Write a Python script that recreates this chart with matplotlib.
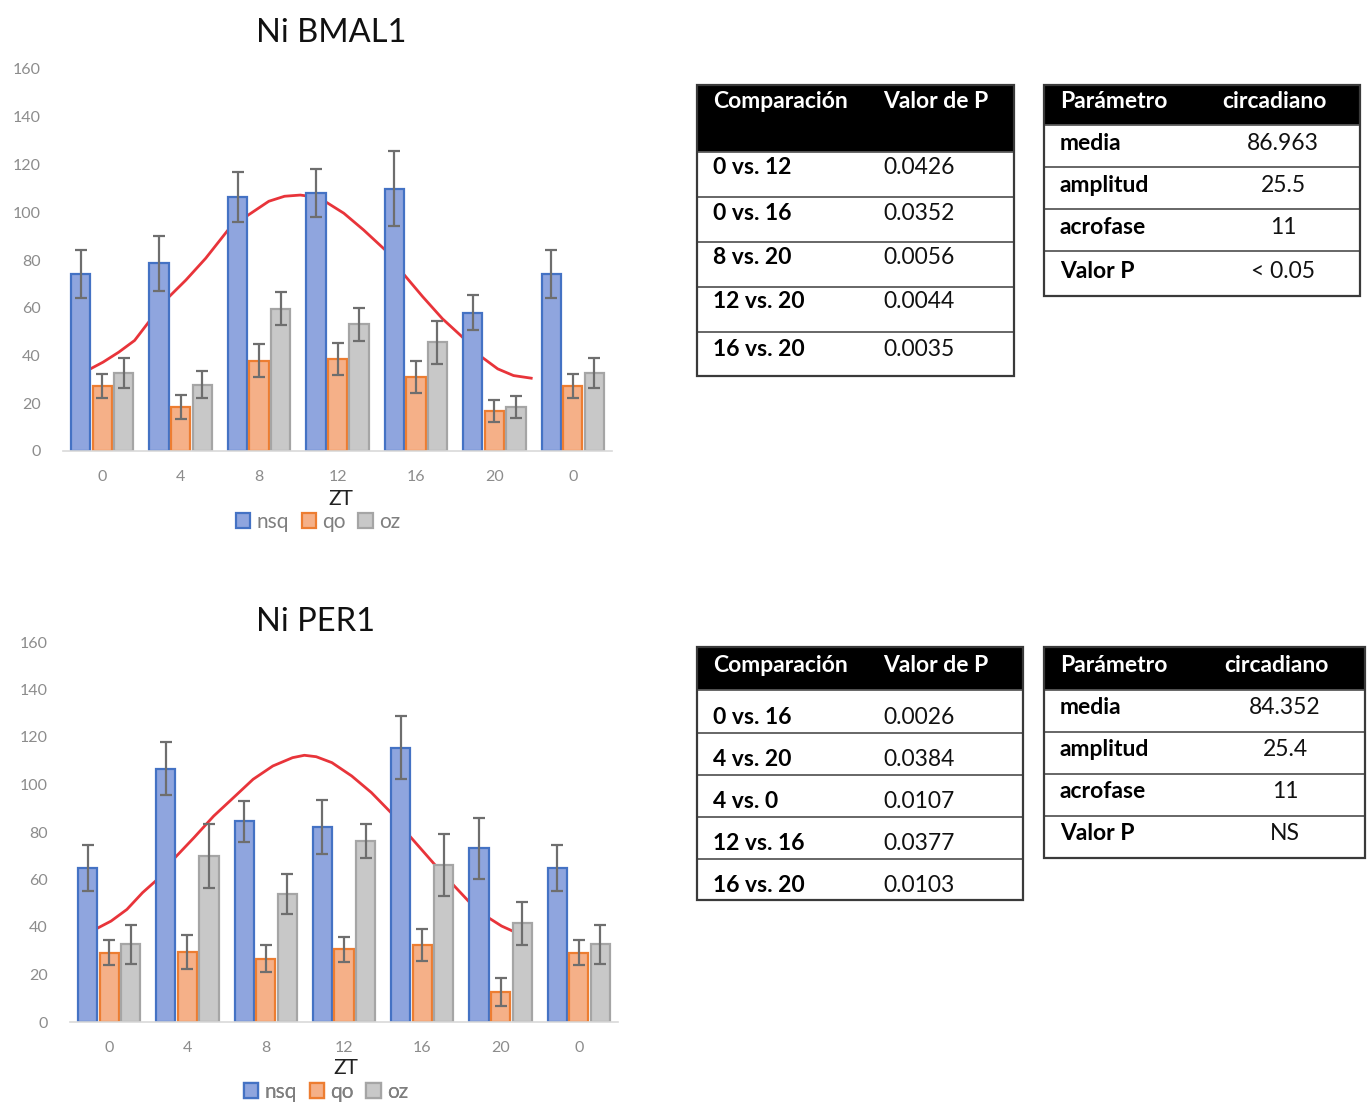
import matplotlib
matplotlib.use("Agg")
import matplotlib.pyplot as plt
from matplotlib.patches import Rectangle
import numpy as np

plt.rcParams['font.family'] = ['Lato', 'DejaVu Sans']

# ---------------- data ----------------
zt_labels = ['0', '4', '8', '12', '16', '20', '0']
series_names = ['nsq', 'qo', 'oz']

bmal_nsq = [74, 78.6, 106.4, 108, 109.8, 58, 74]
bmal_nsq_err = [10, 11.5, 10.4, 10, 15.7, 7.3, 10]
bmal_qo = [27.4, 18.5, 37.9, 38.6, 30.9, 16.8, 27.4]
bmal_qo_err = [5, 5, 7, 6.6, 6.6, 4.5, 5]
bmal_oz = [32.7, 27.8, 59.6, 53, 45.5, 18.5, 32.7]
bmal_oz_err = [6.2, 5.6, 6.9, 7, 9, 4.7, 6.2]

# fitted cosinor curve (x in category units, y value)
bmal_fit_x = [-0.151, 0.010, 0.211, 0.413, 0.604, 0.840, 1.067, 1.319, 1.605, 1.847,
              2.124, 2.325, 2.526, 2.728, 2.838, 3.080, 3.332, 3.608, 3.835, 4.087,
              4.338, 4.600, 4.841, 5.043, 5.244, 5.470]
bmal_fit_y = [34.4, 37.2, 41.4, 46.3, 54.5, 64.2, 71.6, 80.7, 92.6, 98.5,
              104.6, 106.7, 107.2, 106.3, 104.6, 99.6, 92.6, 84.2, 74.4, 64.6,
              55.4, 47.5, 39.3, 34.4, 31.6, 30.5]

per_nsq = [64.7, 106.7, 84.5, 82.1, 115.5, 73.1, 64.7]
per_nsq_err = [9.7, 11.2, 8.5, 11.4, 13.3, 12.9, 9.7]
per_qo = [29.2, 29.6, 26.7, 30.6, 32.3, 12.6, 29.2]
per_qo_err = [5.3, 7.2, 5.6, 5.3, 6.7, 5.8, 5.3]
per_oz = [32.7, 69.9, 53.8, 76.2, 66.1, 41.5, 32.7]
per_oz_err = [8.1, 13.3, 8.4, 7, 13.2, 9.2, 8.1]

per_fit_x = [-0.161, 0.025, 0.227, 0.428, 0.615, 0.841, 1.083, 1.335, 1.612, 1.839,
             2.091, 2.343, 2.494, 2.645, 2.846, 3.098, 3.350, 3.602, 3.839, 4.156,
             4.408, 4.610, 4.846, 5.013, 5.154]
per_fit_y = [39.3, 42.5, 47.4, 54.5, 60.0, 69.2, 77.6, 86.7, 95.2, 102.2,
             107.8, 111.3, 112.3, 111.7, 109.2, 103.6, 96.6, 88.1, 78.3, 66.4,
             57.3, 50.2, 43.9, 40.4, 38.3]

bmal_cmp_header = ['Comparación', 'Valor de P']
bmal_cmp = ['0 vs. 12', '0 vs. 16', '8 vs. 20', '12 vs. 20', '16 vs. 20']
bmal_cmp_p = ['0.0426', '0.0352', '0.0056', '0.0044', '0.0035']
par_header = ['Parámetro', 'circadiano']
par_names = ['media', 'amplitud', 'acrofase', 'Valor P']
bmal_par_vals = ['86.963', '25.5', '11', '< 0.05']

per_cmp = ['0 vs. 16', '4 vs. 20', '4 vs. 0', '12 vs. 16', '16 vs. 20']
per_cmp_p = ['0.0026', '0.0384', '0.0107', '0.0377', '0.0103']
per_par_vals = ['84.352', '25.4', '11', 'NS']

# ---------------- styling ----------------
W, H = 1367, 1120
fig = plt.figure(figsize=(W / 100, H / 100), dpi=100)

face = ['#8FA5DE', '#F5B088', '#C8C8C8']
edge = ['#4472C4', '#ED7D31', '#A5A5A5']
err_color = '#6E6E6E'
tick_color = '#8C8C8C'


def px_axes(l, r, t, b):
    return fig.add_axes([l / W, 1 - b / H, (r - l) / W, (b - t) / H])


def bar_chart(ax, vals, errs, fit_x, fit_y):
    x = np.arange(len(zt_labels))
    offs = [-0.275, 0.0, 0.275]
    ax.plot(fit_x, fit_y, color='#E8343A', lw=2.0, zorder=1)
    handles = []
    for i in range(3):
        b = ax.bar(x + offs[i], vals[i], width=0.245, color=face[i], edgecolor=edge[i],
                   linewidth=1.6, zorder=2, label=series_names[i])
        ax.errorbar(x + offs[i], vals[i], yerr=errs[i], fmt='none', ecolor=err_color,
                    elinewidth=1.6, capsize=4.5, capthick=1.6, zorder=3)
        handles.append(b)
    ax.set_xlim(-0.5, len(zt_labels) - 0.5)
    ax.set_ylim(0, 160)
    ax.set_yticks(np.arange(0, 161, 20))
    ax.set_xticks(x)
    ax.set_xticklabels(zt_labels)
    for s in ['top', 'right', 'left']:
        ax.spines[s].set_visible(False)
    ax.spines['bottom'].set_color('#D9D9D9')
    ax.spines['bottom'].set_linewidth(1.2)
    ax.tick_params(axis='both', length=0, labelsize=11.5, colors=tick_color)
    ax.tick_params(axis='y', pad=16)
    ax.tick_params(axis='x', pad=14)
    return handles


ax1 = px_axes(63, 612, 69, 451)
h1 = bar_chart(ax1, [bmal_nsq, bmal_qo, bmal_oz], [bmal_nsq_err, bmal_qo_err, bmal_oz_err],
               bmal_fit_x, bmal_fit_y)
ax2 = px_axes(70, 618, 642, 1022)
h2 = bar_chart(ax2, [per_nsq, per_qo, per_oz], [per_nsq_err, per_qo_err, per_oz_err],
               per_fit_x, per_fit_y)

ov = fig.add_axes([0, 0, 1, 1], zorder=5)
ov.set_xlim(0, W)
ov.set_ylim(H, 0)
ov.axis('off')
ov.patch.set_alpha(0)

# titles, axis labels, legends
ov.text(331, 33, 'Ni BMAL1', fontsize=23.5, ha='center', va='center', color='#111111')
ov.text(316, 622, 'Ni PER1', fontsize=23.5, ha='center', va='center', color='#111111')
ov.text(341, 499, 'ZT', fontsize=15, ha='center', va='center', color='#222222')
ov.text(346, 1068, 'ZT', fontsize=15, ha='center', va='center', color='#222222')

for ax, h, (cx, cy) in [(ax1, h1, (318, 522)), (ax2, h2, (326, 1092))]:
    ov.legend(h, series_names, loc='center', bbox_to_anchor=(cx, cy),
              bbox_transform=ov.transData, ncol=3, frameon=False, fontsize=15,
              handlelength=0.7, handleheight=0.7, handletextpad=0.3,
              columnspacing=0.6, labelcolor='#7F7F7F', borderpad=0)
    ov.add_artist(ov.get_legend())

FS = 16.5


def table(x0, x1, lines, header_y, header, rows_l, rows_r, text_y, col2_x, col2_center,
          head2_x):
    top, head_bot = lines[0], lines[1]
    ov.add_patch(Rectangle((x0, top), x1 - x0, head_bot - top, facecolor='black',
                           edgecolor='none', zorder=1))
    for y in lines[1:-1]:
        ov.plot([x0, x1], [y, y], color='#5A5A5A', lw=1.3, zorder=2)
    ov.add_patch(Rectangle((x0, top), x1 - x0, lines[-1] - top, facecolor='none',
                           edgecolor='#3A3A3A', lw=1.6, zorder=3))
    ov.text(x0 + 16, header_y, header[0], color='white', fontsize=FS, fontweight='bold',
            ha='left', va='center', zorder=4)
    ov.text(head2_x, header_y, header[1], color='white', fontsize=FS, fontweight='bold',
            ha='center' if col2_center else 'left', va='center', zorder=4)
    for i, (a, b) in enumerate(zip(rows_l, rows_r)):
        ov.text(x0 + 16, text_y[i], a, color='black', fontsize=FS, fontweight='bold',
                ha='left', va='center', zorder=4)
        ov.text(col2_x, text_y[i], b, color='#111111', fontsize=FS,
                ha='center' if col2_center else 'left', va='center', zorder=4)


table(697, 1014, [85, 152, 197, 242, 287, 332, 376], 102, bmal_cmp_header, bmal_cmp,
      bmal_cmp_p, [168, 213, 258, 302, 349], 883, False, 883)
table(1044, 1360, [85, 125, 167, 209, 251, 296], 102, par_header, par_names,
      bmal_par_vals, [144, 186, 228, 271], 1283, True, 1274)
table(697, 1023, [647, 690, 733, 775, 817, 859, 900], 665, bmal_cmp_header, per_cmp,
      per_cmp_p, [717, 759, 801, 844, 886], 883, False, 883)
table(1044, 1365, [647, 690, 732, 774, 816, 858], 665, par_header, par_names,
      per_par_vals, [707, 749, 791, 833], 1285, True, 1276)

fig.savefig('out.png', dpi=100)
